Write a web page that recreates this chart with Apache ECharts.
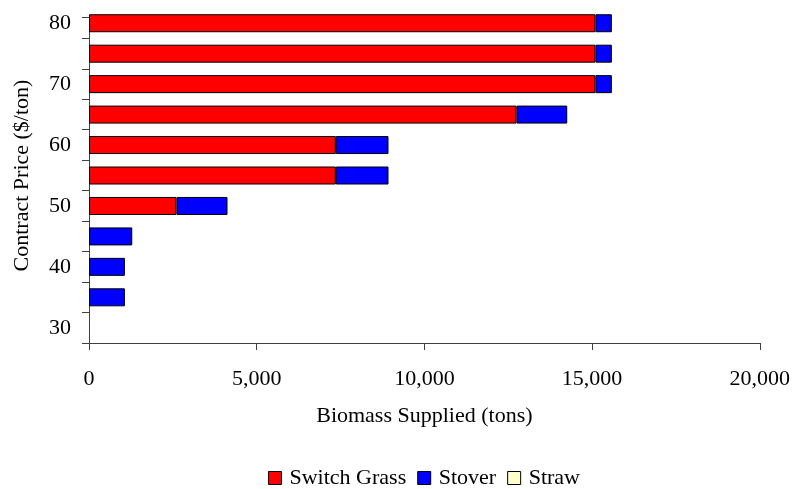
<!DOCTYPE html>
<html>
<head>
<meta charset="utf-8">
<script src="https://cdn.jsdelivr.net/npm/echarts@6/dist/echarts.min.js"></script>
<style>
html,body{margin:0;padding:0;background:#fff;}
#c{width:793px;height:489px;}
</style>
</head>
<body>
<div id="c"></div>
<script>
var categories = ['30','35','40','45','50','55','60','65','70','75','80'];
var switchGrass = [null, null, null, null, 2610, 7360, 7360, 12750, 15100, 15100, 15100];
var stover = [null, 1070, 1070, 1290, 1520, 1570, 1570, 1510, 490, 490, 490];
var straw = [null, null, null, null, null, null, null, null, null, null, null];
var xTicks = [0, 5000, 10000, 15000, 20000];

var FONT = "'Liberation Serif','Times New Roman',serif";
var AXIS = '#404040';

var chart = echarts.init(document.getElementById('c'), null, {renderer: 'canvas'});
chart.setOption({
  animation: false,
  backgroundColor: '#fff',
  textStyle: {fontFamily: FONT, color: '#000'},
  grid: [
    {left: 89, right: 33, top: 8, bottom: 146, containLabel: false},
    {left: 89, right: 33, top: 17, bottom: 146, containLabel: false}
  ],
  xAxis: [
    {
      type: 'value', gridIndex: 0,
      min: xTicks[0], max: xTicks[xTicks.length - 1], interval: 5000,
      axisLine: {show: true, lineStyle: {color: AXIS, width: 1}},
      axisTick: {show: true, inside: false, length: 7, lineStyle: {color: AXIS}},
      splitLine: {show: false},
      axisLabel: {
        margin: 25, fontSize: 22, fontFamily: FONT, color: '#000',
        formatter: function (v) { return v.toLocaleString('en-US'); }
      },
      name: 'Biomass Supplied (tons)', nameLocation: 'middle', nameGap: 62,
      nameTextStyle: {fontSize: 22, fontFamily: FONT, color: '#000'}
    },
    {
      type: 'value', gridIndex: 1, show: false, min: 0, max: 1
    }
  ],
  yAxis: [
    {
      type: 'category', gridIndex: 0, data: categories,
      axisLine: {show: false},
      axisTick: {show: false},
      splitLine: {show: false},
      axisLabel: {interval: 1, margin: 18, fontSize: 22, fontFamily: FONT, color: '#000'},
      name: 'Contract Price ($/ton)', nameLocation: 'middle', nameGap: 56, nameRotate: 90,
      nameTextStyle: {fontSize: 22, fontFamily: FONT, color: '#000'}
    },
    {
      type: 'value', gridIndex: 1, min: 0, max: 53.5, interval: 5,
      axisLine: {show: true, lineStyle: {color: AXIS, width: 1}},
      axisTick: {show: true, inside: false, length: 7, lineStyle: {color: AXIS}},
      axisLabel: {show: false},
      splitLine: {show: false}
    }
  ],
  legend: {
    left: 263, top: 462,
    itemWidth: 13, itemHeight: 13, itemGap: 11,
    icon: 'rect',
    itemStyle: {borderColor: '#000', borderWidth: 1},
    textStyle: {fontSize: 22, fontFamily: FONT, color: '#000', padding: [0, 0, 0, 3]},
    data: ['Switch Grass', 'Stover', 'Straw']
  },
  series: [
    {
      name: 'Switch Grass', type: 'bar', stack: 'total', xAxisIndex: 0, yAxisIndex: 0,
      data: switchGrass, barWidth: 18,
      itemStyle: {color: '#FF0000', borderColor: '#000', borderWidth: 1}
    },
    {
      name: 'Stover', type: 'bar', stack: 'total', xAxisIndex: 0, yAxisIndex: 0,
      data: stover, barWidth: 18,
      itemStyle: {color: '#0000FF', borderColor: '#000', borderWidth: 1}
    },
    {
      name: 'Straw', type: 'bar', stack: 'total', xAxisIndex: 0, yAxisIndex: 0,
      data: straw, barWidth: 18,
      itemStyle: {color: '#FFFFCC', borderColor: '#000', borderWidth: 1}
    }
  ]
});
</script>
</body>
</html>
